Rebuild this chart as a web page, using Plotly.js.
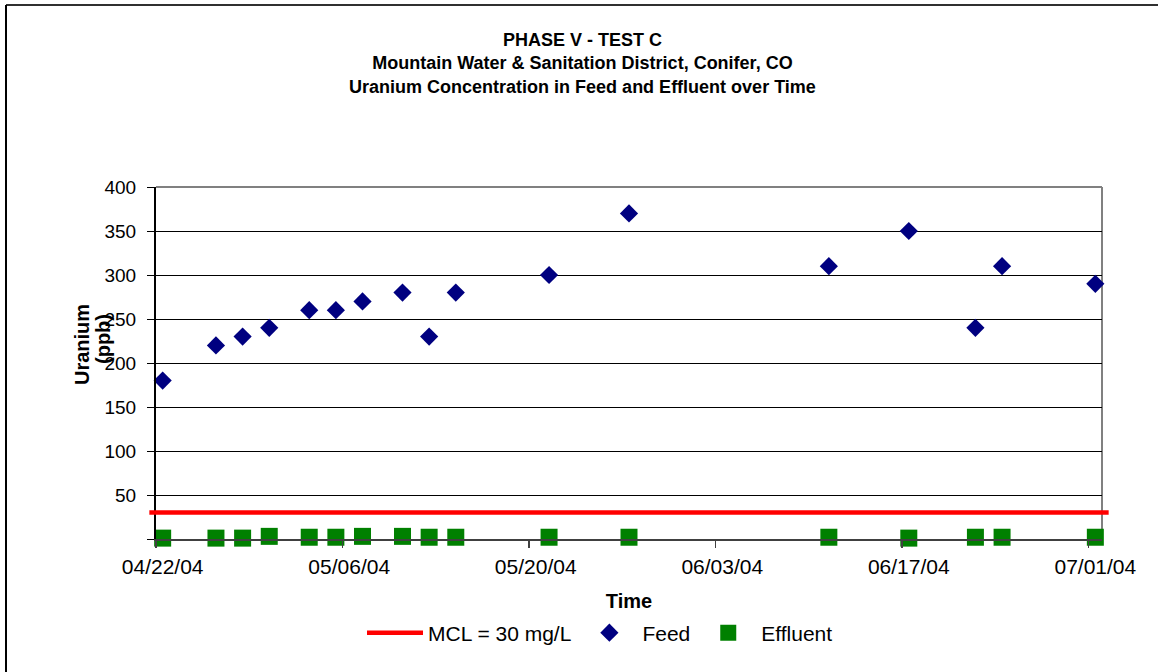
<!DOCTYPE html>
<html><head><meta charset="utf-8">
<script src="https://cdn.plot.ly/plotly-3.0.1.min.js"></script>
<style>html,body{margin:0;padding:0;background:#fff}</style>
</head><body><div id="chart" style="width:1158px;height:672px"></div>
<script>
// ---- data ----
const sampleDates = ['2004-04-22','2004-04-26','2004-04-28','2004-04-30','2004-05-03','2004-05-05','2004-05-07','2004-05-10','2004-05-12','2004-05-14','2004-05-21','2004-05-27','2004-06-11','2004-06-17','2004-06-22','2004-06-24','2004-07-01'];
const feedValues = [180,220,230,240,260,260,270,280,230,280,300,370,310,350,240,310,290];
const effluentValues = [1,1,1,3,2,2,3,3,2,2,2,2,2,1,2,2,2];
const mclDates = ['2004-04-21','2004-07-02'];
const mclValues = [30,30];
const xTickDates = ['2004-04-22','2004-05-06','2004-05-20','2004-06-03','2004-06-17','2004-07-01'];
const xTickLabels = ['04/22/04','05/06/04','05/20/04','06/03/04','06/17/04','07/01/04'];
const yTickValues = [0,50,100,150,200,250,300,350,400];
const yTickLabels = ['','50','100','150','200','250','300','350','400'];

// ---- geometry ----
const W = 1158, H = 672;
const M = {l:146, r:46, t:187, b:133};
const PW = W - M.l - M.r, PH = H - M.t - M.b;
const plotL = 156, plotR = 1102;
const DAY = 86400000;
const ms = s => Date.parse(s + 'T00:00:00Z');
const xRange = [ms(xTickDates[0]) - DAY/2, ms(xTickDates[xTickDates.length-1]) + DAY/2];
const pxMs = (xRange[1]-xRange[0]) / (plotR - plotL);
const dom = [(plotL - M.l)/PW, (plotR - M.l)/PW];
const x3Range = [xRange[0] - (plotL - M.l)*pxMs, xRange[1] + (M.l + PW - plotR)*pxMs];
const boundaryTicks = xTickDates.map(d => ms(d) - DAY/2);
const px = v => (v - M.l)/PW;
const py = v => (H - M.b - v)/PH;

const FONT = '"Liberation Sans", Arial, sans-serif';
const NARROW = '"Liberation Sans Narrow", "Arial Narrow", "Liberation Sans", sans-serif';

const traces = [
  {x: mclDates, y: mclValues, xaxis:'x3', yaxis:'y3', type:'scatter', mode:'lines',
   name:'MCL = 30 mg/L', line:{color:'#FF0000', width:4.5}, hoverinfo:'skip'},
  {x: sampleDates, y: feedValues, type:'scatter', mode:'markers', name:'Feed', cliponaxis:false,
   marker:{symbol:'diamond', size:14, color:'#000080', line:{width:0}}},
  {x: sampleDates, y: effluentValues, type:'scatter', mode:'markers', name:'Effluent', cliponaxis:false,
   marker:{symbol:'square', size:17, color:'#008000', line:{width:0}}}
];

const layout = {
  width: W, height: H,
  margin: M,
  paper_bgcolor:'#ffffff', plot_bgcolor:'rgba(0,0,0,0)',
  font:{family:FONT, color:'#000', size:20},
  showlegend:true,
  title:{text:'<b>PHASE V - TEST C<br>Mountain Water &amp; Sanitation District, Conifer, CO<br>Uranium Concentration in Feed and Effluent over Time</b>',
         font:{family:NARROW, size:18, color:'#000'},
         xref:'container', x:0.503, xanchor:'center', yref:'container', y:1-46/H, yanchor:'top'},
  xaxis:{type:'date', domain:dom, range:xRange, anchor:'y',
         tickmode:'array', tickvals:xTickDates, ticktext:xTickLabels,
         ticks:'', showgrid:false, zeroline:false,
         showline:true, linecolor:'#404040', linewidth:2,
         tickfont:{family:FONT, size:21, color:'#000'},
         ticklabelstandoff:8,
         minor:{tickmode:'array', tickvals:boundaryTicks, ticks:'outside', ticklen:7, tickwidth:1.5, tickcolor:'#404040', showgrid:false},
         title:{text:'<b>Time</b>', font:{family:FONT, size:20, color:'#000'}, standoff:23}},
  yaxis:{domain:[0,1], range:[0,400], anchor:'x',
         tickmode:'array', tickvals:yTickValues, ticktext:yTickLabels,
         ticks:'outside', ticklen:7, tickwidth:1, tickcolor:'#000',
         showgrid:true, gridcolor:'#000', gridwidth:1, zeroline:false,
         showline:true, linecolor:'#000', linewidth:2,
         ticklabelstandoff:7,
         tickfont:{family:FONT, size:19, color:'#000'}},
  xaxis3:{type:'date', domain:[0,1], range:x3Range, anchor:'y3', visible:false, fixedrange:true},
  yaxis3:{domain:[0,1], range:[0,400], anchor:'x3', visible:false, fixedrange:true},
  legend:{orientation:'h', xref:'container', x:600/W, xanchor:'center',
          yref:'container', y:39/H, yanchor:'middle', itemwidth:56,
          font:{family:FONT, size:21, color:'#000'}, bgcolor:'rgba(0,0,0,0)'},
  annotations:[
    {text:'<b>Uranium</b>', xref:'paper', yref:'paper', x:px(82), y:py(345), textangle:-90,
     showarrow:false, xanchor:'center', yanchor:'middle', font:{family:FONT, size:20, color:'#000'}},
    {text:'<b>(ppb)</b>', xref:'paper', yref:'paper', x:px(103), y:py(339), textangle:-90,
     showarrow:false, xanchor:'center', yanchor:'middle', font:{family:FONT, size:20, color:'#000'}}
  ],
  shapes:[
    {type:'line', xref:'paper', yref:'paper', x0:dom[0], x1:dom[1], y0:1, y1:1, line:{color:'#808080', width:2}, layer:'above'},
    {type:'line', xref:'paper', yref:'paper', x0:dom[1], x1:dom[1], y0:0, y1:1, line:{color:'#808080', width:2}, layer:'below'},
    {type:'line', xref:'paper', yref:'paper', x0:px(6), x1:px(1200), y0:py(5), y1:py(5), line:{color:'#303030', width:2}, layer:'below'},
    {type:'line', xref:'paper', yref:'paper', x0:px(6), x1:px(6), y0:py(5), y1:py(700), line:{color:'#000', width:2}, layer:'below'}
  ]
};

Plotly.newPlot('chart', traces, layout, {displayModeBar:false, staticPlot:true});
</script>
</body></html>
